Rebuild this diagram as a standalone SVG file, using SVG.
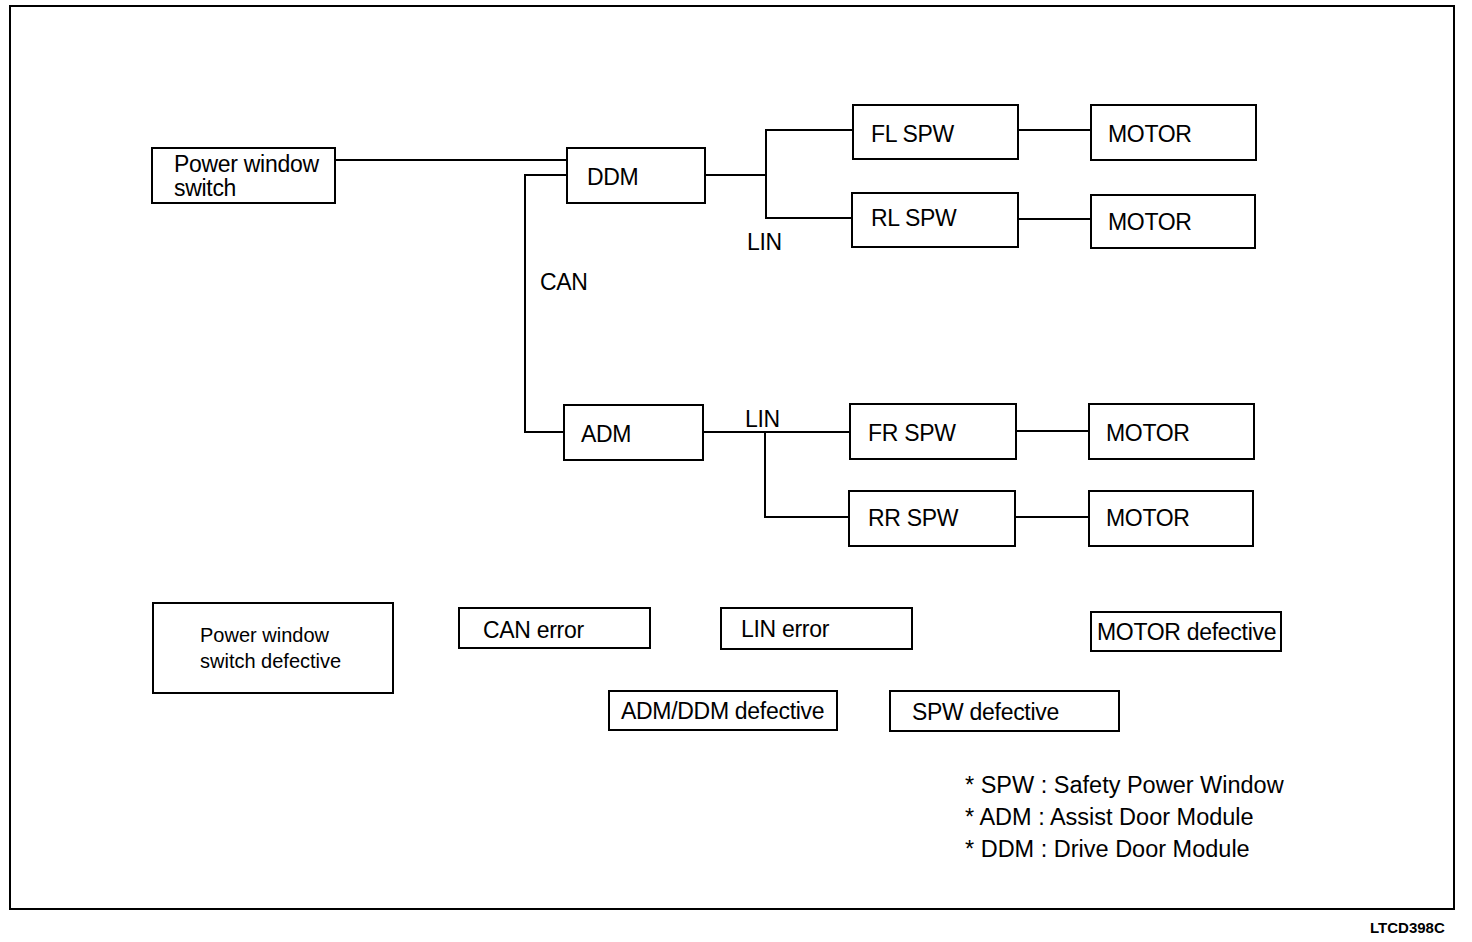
<svg xmlns="http://www.w3.org/2000/svg" width="1472" height="942" viewBox="0 0 1472 942">
<style>
.box{fill:#fff;stroke:#000;stroke-width:2}
.ln{fill:none;stroke:#000;stroke-width:2}
text{font-family:"Liberation Sans",Arial,sans-serif;fill:#000}
.t{font-size:23px;letter-spacing:-0.3px}
.s{font-size:20px;letter-spacing:0px}
.lg{font-size:23.5px;letter-spacing:0px}
</style>
<rect x="0" y="0" width="1472" height="942" fill="#fff"/>
<rect x="10" y="6" width="1444" height="903" class="ln"/>
<g id="connectors">
<polyline class="ln" points="335,160 567,160"/>
<polyline class="ln" points="567,175 525,175 525,432 564,432"/>
<polyline class="ln" points="705,175 766,175"/>
<polyline class="ln" points="853,130 766,130 766,218 852,218"/>
<polyline class="ln" points="1018,130 1091,130"/>
<polyline class="ln" points="1018,219 1091,219"/>
<polyline class="ln" points="703,432 850,432"/>
<polyline class="ln" points="765,432 765,517 849,517"/>
<polyline class="ln" points="1016,431 1089,431"/>
<polyline class="ln" points="1015,517 1089,517"/>
<text class="t" x="540" y="290">CAN</text>
<text class="t" x="747" y="250">LIN</text>
<text class="t" x="745" y="427">LIN</text>
</g>
<g id="pws"><rect class="box" x="152" y="148" width="183" height="55"/><text class="t" x="174" y="172">Power window</text><text class="t" x="174" y="196">switch</text></g>
<g id="ddm"><rect class="box" x="567" y="148" width="138" height="55"/><text class="t" x="587" y="185">DDM</text></g>
<g id="flspw"><rect class="box" x="853" y="105" width="165" height="54"/><text class="t" x="871" y="142">FL SPW</text></g>
<g id="rlspw"><rect class="box" x="852" y="193" width="166" height="54"/><text class="t" x="871" y="226">RL SPW</text></g>
<g id="motor1"><rect class="box" x="1091" y="105" width="165" height="55"/><text class="t" x="1108" y="142">MOTOR</text></g>
<g id="motor2"><rect class="box" x="1091" y="195" width="164" height="53"/><text class="t" x="1108" y="230">MOTOR</text></g>
<g id="adm"><rect class="box" x="564" y="405" width="139" height="55"/><text class="t" x="581" y="442">ADM</text></g>
<g id="frspw"><rect class="box" x="850" y="404" width="166" height="55"/><text class="t" x="868" y="441">FR SPW</text></g>
<g id="rrspw"><rect class="box" x="849" y="491" width="166" height="55"/><text class="t" x="868" y="526">RR SPW</text></g>
<g id="motor3"><rect class="box" x="1089" y="404" width="165" height="55"/><text class="t" x="1106" y="441">MOTOR</text></g>
<g id="motor4"><rect class="box" x="1089" y="491" width="164" height="55"/><text class="t" x="1106" y="526">MOTOR</text></g>
<g id="pwsdef"><rect class="box" x="153" y="603" width="240" height="90"/><text class="s" x="200" y="642">Power window</text><text class="s" x="200" y="668">switch defective</text></g>
<g id="canerr"><rect class="box" x="459" y="608" width="191" height="40"/><text class="t" x="483" y="638">CAN error</text></g>
<g id="linerr"><rect class="box" x="721" y="608" width="191" height="41"/><text class="t" x="741" y="637">LIN error</text></g>
<g id="motordef"><rect class="box" x="1091" y="612" width="190" height="39"/><text class="t" x="1097" y="640">MOTOR defective</text></g>
<g id="admdef"><rect class="box" x="609" y="691" width="228" height="39"/><text class="t" x="621" y="719">ADM/DDM defective</text></g>
<g id="spwdef"><rect class="box" x="890" y="691" width="229" height="40"/><text class="t" x="912" y="720">SPW defective</text></g>
<g id="legend">
<text class="lg" x="965" y="793">* SPW : Safety Power Window</text>
<text class="lg" x="965" y="825">* ADM : Assist Door Module</text>
<text class="lg" x="965" y="857">* DDM : Drive Door Module</text>
</g>
<text x="1370" y="933" style="font-size:15px;font-weight:bold">LTCD398C</text>
</svg>
